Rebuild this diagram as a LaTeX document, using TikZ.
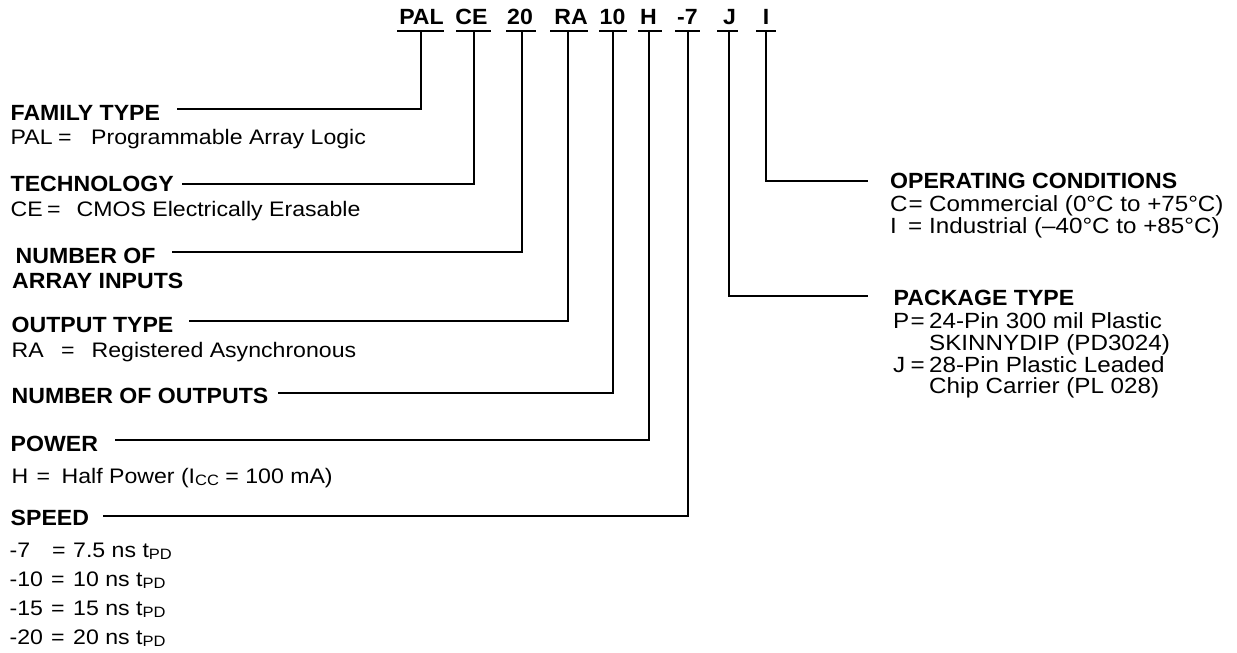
\documentclass[tikz,border=0pt]{standalone}
\usepackage{fontspec}
\setmainfont{Liberation Sans}
\newfontfamily\rfont{Liberation Sans}[FakeStretch=1.1]
\newfontfamily\hdfont{Liberation Sans}[FakeStretch=1.05]
\newcommand\ent[4]{\makebox[#2bp][l]{#1}\makebox[#3bp][l]{=}#4}
\newcommand\sbs[1]{\raisebox{-2.5bp}{\fontsize{15bp}{15bp}\selectfont #1}}
\tikzset{
  hd/.style={anchor=base west, inner sep=0pt, font=\hdfont\bfseries\fontsize{22bp}{22bp}\selectfont},
  tx/.style={anchor=base west, inner sep=0pt, font=\rfont\fontsize{21bp}{21bp}\selectfont},
  txr/.style={anchor=base west, inner sep=0pt, font=\rfont\fontsize{22bp}{22bp}\selectfont},
  code/.style={anchor=base, inner sep=0pt, font=\hdfont\bfseries\fontsize{22bp}{22bp}\selectfont},
  ln/.style={line width=2bp},
}
\begin{document}
\begin{tikzpicture}[x=1bp,y=-1bp]
\useasboundingbox (0,0) rectangle (1237,653);
% codes
\node[code] (cPAL) at (421.5,25) {PAL};
\node[code] (cCE) at (471.5,25) {CE};
\node[code] (c20) at (520,25) {20};
\node[code] (cRA) at (571,25) {RA};
\node[code] (c10) at (612.5,25) {10};
\node[code] (cH) at (648.5,25) {H};
\node[code] (cS) at (687.5,25) {-7};
\node[code] (cJ) at (729.5,25) {J};
\node[code] (cI) at (766,25) {I};
% underlines
\draw[ln] (397,31) -- (444,31);
\draw[ln] (456,31) -- (491,31);
\draw[ln] (506,31) -- (536,31);
\draw[ln] (550,31) -- (588,31);
\draw[ln] (599,31) -- (627,31);
\draw[ln] (638,31) -- (662,31);
\draw[ln] (675,31) -- (700,31);
\draw[ln] (717,31) -- (738,31);
\draw[ln] (756,31) -- (776,31);
% anchors
\coordinate (tPAL) at (421,31); \coordinate (ePAL) at (177,109);
\coordinate (tCE) at (474,31);  \coordinate (eCE) at (182,184);
\coordinate (t20) at (522,31);  \coordinate (e20) at (172,252);
\coordinate (tRA) at (568,31);  \coordinate (eRA) at (189,321);
\coordinate (t10) at (613,31);  \coordinate (e10) at (278,393);
\coordinate (tH) at (649,31);   \coordinate (eH) at (115,440);
\coordinate (tS) at (688,31);   \coordinate (eS) at (103,516);
\coordinate (tJ) at (729,31);   \coordinate (eJ) at (868,296);
\coordinate (tI) at (766,31);   \coordinate (eI) at (868,181.5);
\draw[ln] (tPAL) |- (ePAL);
\draw[ln] (tCE) |- (eCE);
\draw[ln] (t20) |- (e20);
\draw[ln] (tRA) |- (eRA);
\draw[ln] (t10) |- (e10);
\draw[ln] (tH) |- (eH);
\draw[ln] (tS) |- (eS);
\draw[ln] (tJ) |- (eJ);
\draw[ln] (tI) |- (eI);
% left labels
\node[hd] (lfam) at (10.5,121) {FAMILY TYPE};
\node[tx] (dfam) at (10.5,145) {\ent{PAL}{47.5}{33}{Programmable Array Logic}};
\node[hd] (ltech) at (10.5,192) {TECHNOLOGY};
\node[tx] (dtech) at (10.5,217) {\ent{CE}{36.5}{29.5}{CMOS Electrically Erasable}};
\node[hd] (lnum1) at (15.5,263) {NUMBER OF};
\node[hd] (lnum2) at (12,288) {ARRAY INPUTS};
\node[hd] (lout) at (11.5,332) {OUTPUT TYPE};
\node[tx] (dout) at (11.5,357) {\ent{RA}{49.5}{30.5}{Registered Asynchronous}};
\node[hd] (lnout) at (11.5,403) {NUMBER OF OUTPUTS};
\node[hd] (lpow) at (10.5,451) {POWER};
\node[tx] (dpow) at (11.5,483) {\ent{H}{25}{25}{Half Power (I\sbs{CC} = 100 mA)}};
\node[hd] (lspd) at (10.5,525) {SPEED};
\node[tx] (s1) at (9.5,557) {\ent{-7}{42.5}{21}{7.5 ns t\sbs{PD}}};
\node[tx] (s2) at (9.5,586) {\ent{-10}{41.5}{22}{10 ns t\sbs{PD}}};
\node[tx] (s3) at (9.5,615) {\ent{-15}{41.5}{22}{15 ns t\sbs{PD}}};
\node[tx] (s4) at (9.5,644) {\ent{-20}{41.5}{22}{20 ns t\sbs{PD}}};
% right labels
\node[hd] (lop) at (890,189) {OPERATING CONDITIONS};
\node[txr] (op1) at (890,212) {\ent{C}{18.5}{20.5}{Commercial (0°C to +75°C)}};
\node[txr] (op2) at (890,234) {\ent{I}{18}{21}{Industrial (–40°C to +85°C)}};
\node[hd] (lpk) at (893.5,305) {PACKAGE TYPE};
\node[txr] (pk1) at (893,328) {\ent{P}{17.5}{18.5}{24-Pin 300 mil Plastic}};
\node[txr] (pk2) at (929,350) {SKINNYDIP (PD3024)};
\node[txr] (pk3) at (893,372) {\ent{J}{17.5}{18.5}{28-Pin Plastic Leaded}};
\node[txr] (pk4) at (929,393) {Chip Carrier (PL 028)};
\end{tikzpicture}
\end{document}
